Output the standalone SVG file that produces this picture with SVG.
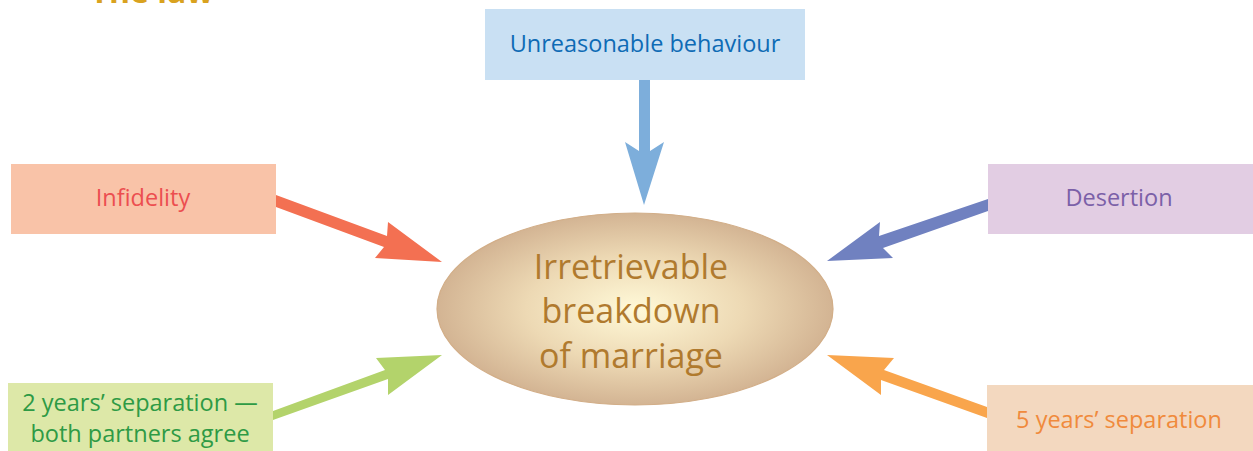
<svg xmlns="http://www.w3.org/2000/svg" width="1253" height="451" viewBox="0 0 1253 451">
<defs>
<radialGradient id="eg" cx="50%" cy="50%" r="50%">
<stop offset="0" stop-color="#FFF9D8"/>
<stop offset="0.55" stop-color="#EDD9B4"/>
<stop offset="1" stop-color="#D3B493"/>
</radialGradient>
</defs>
<style>
.lbl{font-family:"Open Sans","Noto Sans","Liberation Sans",sans-serif;font-size:23.5px;text-anchor:middle}
.ctr{font-family:"Open Sans","Noto Sans","Liberation Sans",sans-serif;font-size:34px;text-anchor:middle;fill:#B07A2E}
</style>
<rect width="1253" height="451" fill="#FFFFFF"/>
<text x="152" y="3" font-family="'Open Sans','Liberation Sans',sans-serif" font-weight="bold" font-size="32" text-anchor="middle" fill="#D9A21F">The law</text>
<g id="connectors">
<polygon fill="#7DAEDB" points="639,80 639,151 625,142 644,205 664,142 650,151 650,80"/>
<polygon fill="#F37052" points="276,195 387,236 388,222 442,262 375,258 384,247 276,207"/>
<polygon fill="#7081C0" points="988,199 879,236 880,222 827,261 893,258 883,248 988,211"/>
<polygon fill="#B3D36B" points="273,411 385,370 376,358 442,355 388,395 388,379 273,420"/>
<polygon fill="#F9A54C" points="987,407 884,370 894,358 827,355 881,395 881,380 987,418"/>
</g>
<g id="center">
<ellipse cx="635" cy="309" rx="198" ry="96" fill="url(#eg)" stroke="#D2AE88" stroke-width="1.2"/>
<text class="ctr" x="631" y="279">Irretrievable</text>
<text class="ctr" x="631" y="323">breakdown</text>
<text class="ctr" x="631" y="368">of marriage</text>
</g>
<g id="unreasonable">
<rect x="485" y="9" width="320" height="71" fill="#C9E0F3"/>
<text class="lbl" x="645" y="52" fill="#0E6BB5">Unreasonable behaviour</text>
</g>
<g id="infidelity">
<rect x="11" y="164" width="265" height="70" fill="#F9C3A8"/>
<text class="lbl" x="143" y="206" fill="#EC4E50">Infidelity</text>
</g>
<g id="desertion">
<rect x="988" y="164" width="265" height="70" fill="#E2CDE3"/>
<text class="lbl" x="1119" y="206" fill="#7B60A8">Desertion</text>
</g>
<g id="two-years">
<rect x="8" y="383" width="265" height="68" fill="#DDE8A8"/>
<text class="lbl" x="140" y="411" fill="#2E9A45">2 years’ separation —</text>
<text class="lbl" x="140" y="442" fill="#2E9A45">both partners agree</text>
</g>
<g id="five-years">
<rect x="987" y="385" width="266" height="66" fill="#F3D8BF"/>
<text class="lbl" x="1119" y="428" fill="#F08A3C">5 years’ separation</text>
</g>
</svg>
